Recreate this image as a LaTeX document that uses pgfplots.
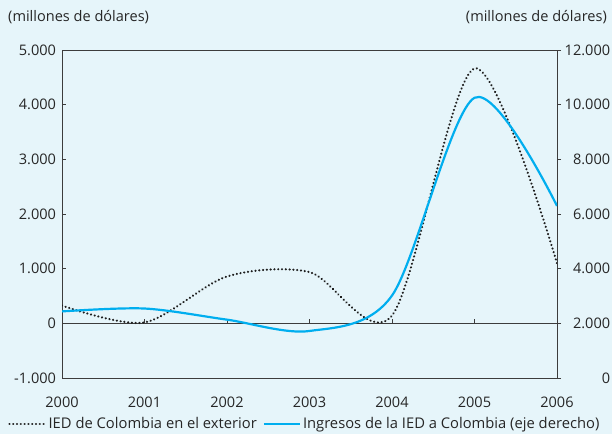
\documentclass[border=0pt]{standalone}
\usepackage{pgfplots}
\pgfplotsset{compat=1.18}
\usepackage{fontspec}
\setmainfont{Open Sans}
\definecolor{bg}{HTML}{E6F5FA}
\definecolor{cy}{HTML}{00AEEF}
\definecolor{ax}{HTML}{3C3C3C}
\definecolor{dt}{HTML}{1E1E1E}
\newcommand{\fs}{\fontsize{14.6}{17}\selectfont}
\begin{document}
\fs
\begin{tikzpicture}[x=1bp,y=1bp]
\fill[bg] (-62,-56) rectangle (550,378);
\path[use as bounding box] (-62,-56) rectangle (550,378);
\node[anchor=west,inner sep=0,text=black!85] at (-54,361) {(millones de dólares)};
\node[anchor=east,inner sep=0,text=black!85] at (545,361) {(millones de dólares)};
\begin{axis}[
  at={(0,0)}, anchor=south west, scale only axis,
  width=495bp, height=328bp,
  xmin=2000, xmax=2006, ymin=-1000, ymax=5000,
  xtick={2000,...,2006}, ytick={-1000,0,...,5000},
  scaled y ticks=false,
  axis line style={ax, line width=0.9pt},
  major tick style={ax, line width=0.8pt},
  tick align=inside,
  x tick style={draw=none},
  ytick pos=left,
  xticklabel style={/pgf/number format/1000 sep={}, yshift=-14bp},
  yticklabel style={/pgf/number format/1000 sep={.}, xshift=-1bp},
  /pgf/number format/assume math mode=true,
  tick label style={font=\fs, text=black!85},
  legend columns=2,
  legend style={at={(axis description cs:-0.109,-0.14)}, anchor=west, draw=none, fill=none, inner sep=0pt,
    font=\fontsize{14.8}{17}\selectfont, text=black!85,
    /tikz/every even column/.append style={column sep=4bp}},
  legend image code/.code={\draw[#1] (-3bp,0bp) -- (33bp,0bp);},
]
\draw[ax, line width=0.9pt] (axis cs:2000,0) -- (axis cs:2006,0);
\pgfplotsinvokeforeach{2000,2001,2002,2003,2004,2005}{\draw[ax, line width=0.8pt] (axis cs:#1,0) -- ++(0bp,4bp);}
\addplot[dt, line width=2.4pt, line cap=round, dash pattern=on 0.01pt off 3.8pt, smooth, tension=0.5] coordinates {
(2000,325) (2001,16) (2002,857) (2003,938) (2004,142) (2005,4662) (2006,1098)};
\addlegendentry{IED de Colombia en el exterior}
\addlegendimage{cy, line width=2.2pt}
\addlegendentry{Ingresos de la IED a Colombia (eje derecho)}
\end{axis}
\begin{axis}[
  at={(0,0)}, anchor=south west, scale only axis,
  width=495bp, height=328bp,
  xmin=2000, xmax=2006, ymin=0, ymax=12000,
  hide x axis,
  axis y line*=right,
  scaled y ticks=false,
  axis line style={ax, line width=0.9pt},
  ytick={0,2000,...,12000},
  major tick style={ax, line width=0.8pt},
  tick align=outside,
  yticklabel style={/pgf/number format/1000 sep={.}, anchor=east, xshift=54bp},
  /pgf/number format/assume math mode=true,
  tick label style={font=\fs, text=black!85},
]
\addplot[cy, line width=2.2pt, smooth, tension=0.5] coordinates {
(2000,2436) (2001,2542) (2002,2134) (2003,1720) (2004,3016) (2005,10252) (2006,6295)};
\end{axis}
\end{tikzpicture}
\end{document}
